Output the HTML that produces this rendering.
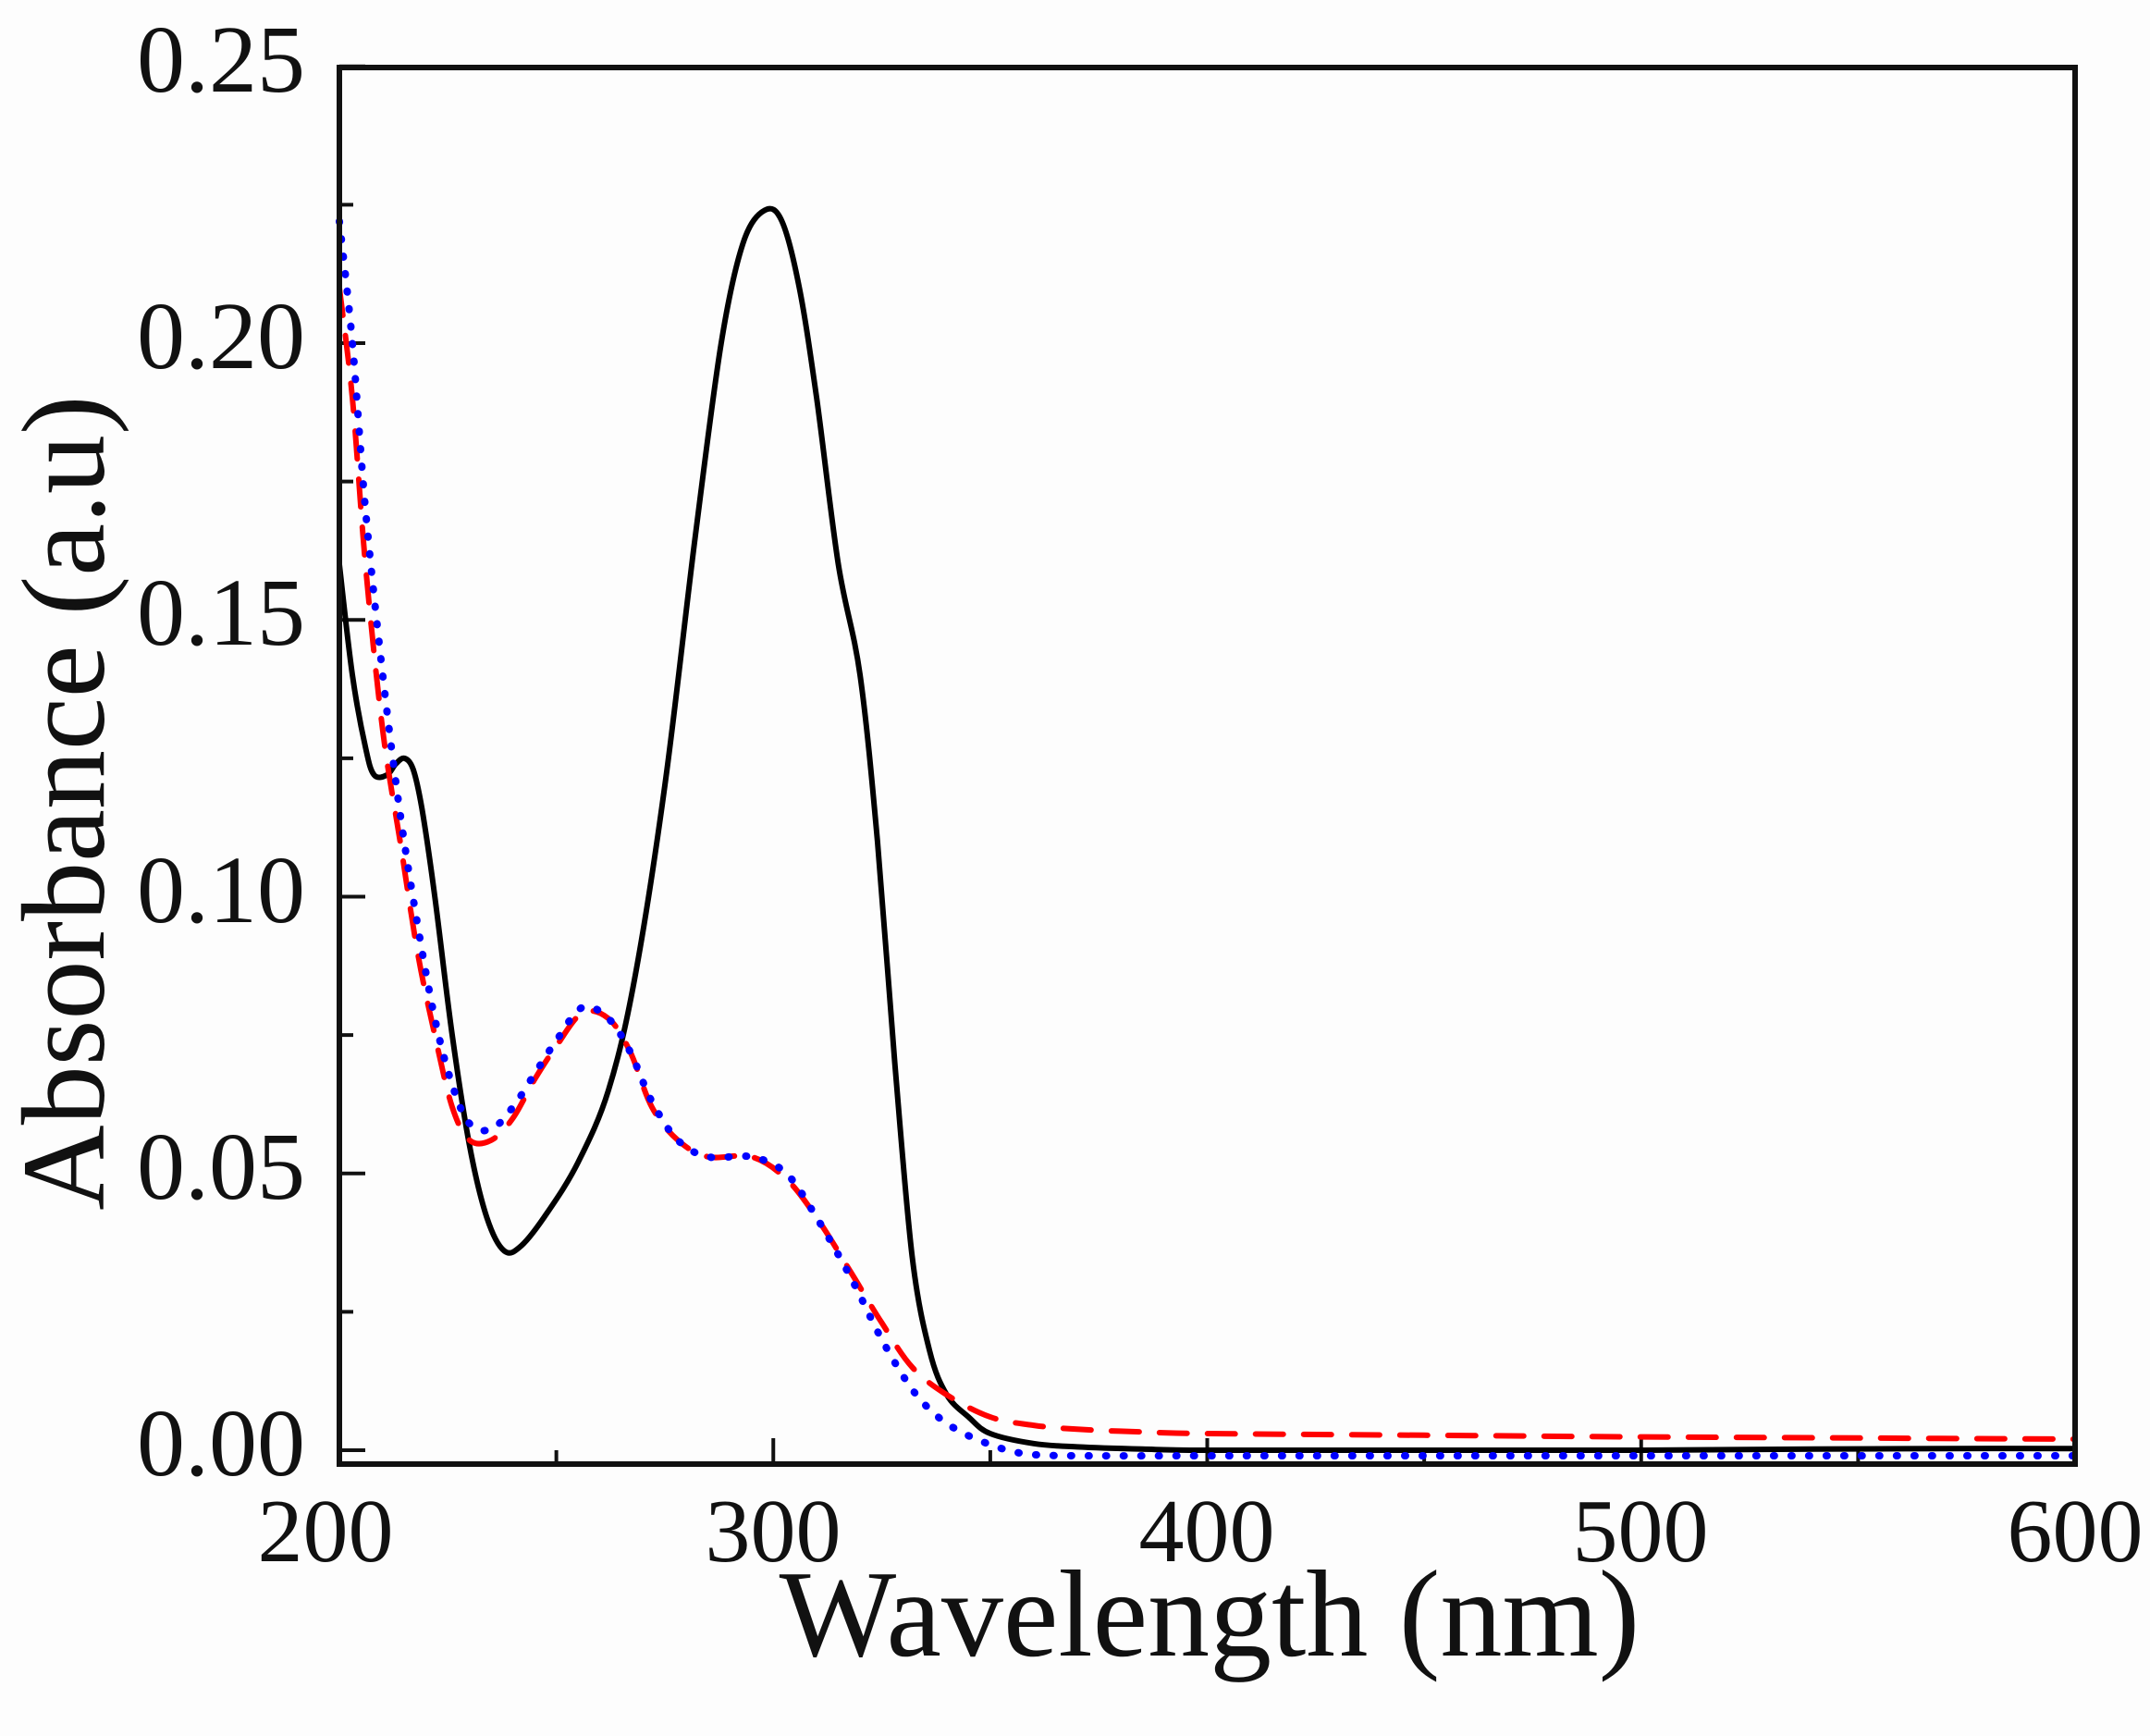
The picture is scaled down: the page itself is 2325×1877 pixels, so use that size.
<!DOCTYPE html>
<html><head><meta charset="utf-8"><style>
html,body{margin:0;padding:0;background:#fdfdfd;}
svg{display:block}
text{font-family:"Liberation Serif",serif;fill:#111}
</style></head><body>
<svg id="s" width="2325" height="1877" viewBox="0 0 2325 1877" xmlns="http://www.w3.org/2000/svg">
<rect width="2325" height="1877" fill="#fdfdfd"/>
<g id="ticks" stroke="#111" stroke-width="4"></g>
<g id="series" fill="none"></g>
<rect x="367" y="73" width="1877" height="1510" fill="none" stroke="#111" stroke-width="6"/>
<g font-size="104" text-anchor="end">
<text x="330" y="99">0.25</text>
<text x="330" y="398">0.20</text>
<text x="330" y="697">0.15</text>
<text x="330" y="997">0.10</text>
<text x="330" y="1296">0.05</text>
<text x="330" y="1595">0.00</text>
</g>
<g font-size="98" text-anchor="middle">
<text x="352" y="1688">200</text>
<text x="836" y="1688">300</text>
<text x="1305" y="1688">400</text>
<text x="1774" y="1688">500</text>
<text x="2244" y="1688">600</text>
</g>
<text x="1308" y="1790" font-size="134" text-anchor="middle">Wavelength (nm)</text>
<text transform="translate(112,868) rotate(-90)" font-size="128" text-anchor="middle">Absorbance (a.u)</text>
</svg>
<script>
const X=w=>367+(w-200)*4.6925, Y=v=>1568-v*5985;
const ns="http://www.w3.org/2000/svg";
const tk=document.getElementById('ticks');
function ln(x1,y1,x2,y2){const l=document.createElementNS(ns,'line');l.setAttribute('x1',x1);l.setAttribute('y1',y1);l.setAttribute('x2',x2);l.setAttribute('y2',y2);tk.appendChild(l);}
for(let w=200;w<=600;w+=50){const big=w%100==0;ln(X(w),1583,X(w),1583-(big?28:15));}
for(let i=0;i<=10;i++){const v=i*0.025;const big=i%2==0;ln(367,Y(v),367+(big?28:15),Y(v));}
function path(pts){const P=pts.map(p=>[X(p[0]),Y(p[1])]);let d="M"+P[0][0].toFixed(1)+","+P[0][1].toFixed(1);
 for(let i=0;i<P.length-1;i++){const p0=P[Math.max(0,i-1)],p1=P[i],p2=P[i+1],p3=P[Math.min(P.length-1,i+2)];
  const c1=[p1[0]+(p2[0]-p0[0])/6,p1[1]+(p2[1]-p0[1])/6],c2=[p2[0]-(p3[0]-p1[0])/6,p2[1]-(p3[1]-p1[1])/6];
  d+="C"+c1[0].toFixed(1)+","+c1[1].toFixed(1)+" "+c2[0].toFixed(1)+","+c2[1].toFixed(1)+" "+p2[0].toFixed(1)+","+p2[1].toFixed(1);}
 return d;}
function add(pts,color,dash,wd){const p=document.createElementNS(ns,'path');p.setAttribute('d',path(pts));p.setAttribute('stroke',color);p.setAttribute('stroke-width',wd);if(dash)p.setAttribute('stroke-dasharray',dash);p.setAttribute('stroke-linejoin','round');p.setAttribute('stroke-linecap','round');document.getElementById('series').appendChild(p);}
const black=[[200,0.16],[203,0.14],[206,0.127],[208,0.122],[211,0.122],[213,0.124],[215,0.125],[217,0.123],[219,0.116],[222,0.10],[226,0.075],[230,0.055],[234,0.042],[238,0.036],[242,0.037],[248,0.043],[255,0.052],[262,0.065],[268,0.085],[275,0.12],[282,0.165],[288,0.2],[293,0.218],[298,0.224],[302,0.222],[306,0.21],[310,0.19],[315,0.16],[320,0.14],[324,0.11],[328,0.07],[332,0.035],[336,0.018],[340,0.010],[345,0.006],[350,0.003],[360,0.0012],[370,0.0006],[385,0.0002],[400,0],[450,0],[500,0],[540,0.0002],[570,0.0003],[600,0.0003]];
const red=[[200,0.21],[203,0.19],[206,0.16],[210,0.13],[214,0.11],[218,0.09],[222,0.075],[226,0.062],[230,0.056],[235,0.056],[240,0.06],[245,0.067],[250,0.073],[256,0.079],[262,0.078],[267,0.072],[272,0.062],[278,0.056],[285,0.053],[295,0.053],[303,0.049],[310,0.042],[318,0.032],[325,0.023],[332,0.015],[340,0.01],[350,0.006],[360,0.0045],[370,0.0038],[385,0.0033],[400,0.003],[450,0.0027],[500,0.0024],[550,0.0022],[600,0.002]];
const blue=[[200,0.222],[203,0.2],[206,0.17],[210,0.14],[214,0.115],[218,0.095],[222,0.078],[226,0.066],[230,0.059],[235,0.058],[240,0.062],[245,0.068],[250,0.074],[256,0.080],[262,0.078],[267,0.072],[272,0.063],[278,0.056],[285,0.053],[295,0.053],[303,0.05],[310,0.042],[318,0.031],[325,0.02],[332,0.011],[338,0.006],[344,0.003],[350,0.001],[355,-0.0002],[360,-0.0008],[370,-0.001],[400,-0.001],[450,-0.001],[500,-0.001],[550,-0.001],[600,-0.001]];
add(black,'#000',null,6);
add(red,'#f00','30 22',6);
add(blue,'#00f','1 18',8);
</script>
</body></html>
